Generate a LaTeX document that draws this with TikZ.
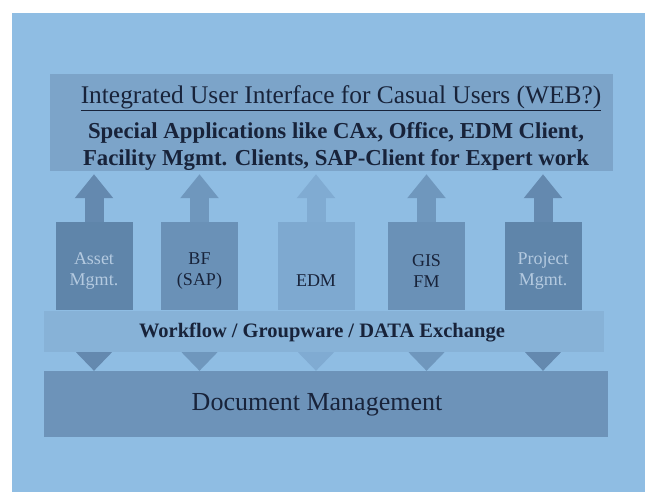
\documentclass[tikz,border=0pt]{standalone}
\usepackage{fontspec}
\setmainfont{Liberation Serif}
\usetikzlibrary{arrows.meta}

\definecolor{bgblue}{HTML}{8FBDE3}
\definecolor{uiblue}{HTML}{7CA4C9}
\definecolor{wfblue}{HTML}{87B2D7}
\definecolor{docblue}{HTML}{6D93B9}
\definecolor{darkbox}{HTML}{5F85AA}
\definecolor{midbox}{HTML}{6A91B7}
\definecolor{lightbox}{HTML}{7EA9D0}
\definecolor{darkarr}{HTML}{6489AF}
\definecolor{midarr}{HTML}{6F97BD}
\definecolor{lightarr}{HTML}{80ABD2}
\definecolor{navy}{HTML}{18233A}
\definecolor{paletext}{HTML}{B4CAE0}

\begin{document}
\begin{tikzpicture}[
  x=1pt, y=-1pt,
  box/.style={rectangle, inner sep=0pt, draw=none},
  appbox/.style={box, minimum width=77pt, minimum height=88pt},
  applabel/.style={align=center, font=\fontsize{18}{21}\selectfont, text=navy},
  upblock/.style={line width=19pt, -{Triangle[width=37pt,length=24pt]}, shorten >=3pt},
  heading/.style={font=\fontsize{25.4}{30}\selectfont, text=navy},
  boldtext/.style={align=center, font=\bfseries\fontsize{22.8}{27}\selectfont, text=navy}
]
\useasboundingbox (0,0) rectangle (650,492);
\fill[white] (0,0) rectangle (650,492);
\fill[bgblue] (12,13) rectangle (645,492);

% interface on top
\node[box, fill=uiblue, minimum width=563pt, minimum height=97pt] (ui) at (331.5,122.5) {};
\node[heading] (uititle) at (341,98) {\underline{Integrated User Interface for Casual Users (WEB?)}};
\node[boldtext] (uiapps) at (336,146) {Special Applications like CAx, Office, EDM Client,\\Facility Mgmt. Clients, SAP-Client for Expert work};

% application boxes
\node[appbox, fill=darkbox] (asset) at (94,266) {};
\node[appbox, fill=midbox] (bf) at (199.5,266) {};
\node[appbox, fill=lightbox] (edm) at (316,266) {};
\node[appbox, fill=midbox] (gis) at (426.5,266) {};
\node[appbox, fill=darkbox] (project) at (543,266) {};

\node[applabel, text=paletext] (assetlbl) at (94,271) {Asset\\Mgmt.};
\node[applabel] (bflbl) at (199.5,271) {BF\\(SAP)};
\node[applabel] (edmlbl) at (316,281) {EDM};
\node[applabel] (gislbl) at (426.5,271) {GIS\\FM};
\node[applabel, text=paletext] (projectlbl) at (543,271) {Project\\Mgmt.};

\draw[upblock, darkarr] (asset.north) -- (asset.north |- ui.south);
\draw[upblock, midarr] (bf.north) -- (bf.north |- ui.south);
\draw[upblock, lightarr] (edm.north) -- (edm.north |- ui.south);
\draw[upblock, midarr] (gis.north) -- (gis.north |- ui.south);
\draw[upblock, darkarr] (project.north) -- (project.north |- ui.south);

% workflow bar and document management
\node[box, fill=wfblue, minimum width=560pt, minimum height=41pt] (wf) at (324,331.5) {};
\node[boldtext, font=\bfseries\fontsize{20.5}{24}\selectfont] (wflbl) at (322,333) {Workflow / Groupware / DATA Exchange};

\node[box, fill=docblue, minimum width=564pt, minimum height=66pt] (doc) at (326,404) {};
\node[heading, font=\fontsize{26}{30}\selectfont] (doclbl) at (317,405) {Document Management};

\fill[darkarr] ([xshift=-18pt]asset.south |- wf.south) -- ([xshift=18pt]asset.south |- wf.south) -- (asset.south |- doc.north) -- cycle;
\fill[midarr] ([xshift=-18pt]bf.south |- wf.south) -- ([xshift=18pt]bf.south |- wf.south) -- (bf.south |- doc.north) -- cycle;
\fill[lightarr] ([xshift=-18pt]edm.south |- wf.south) -- ([xshift=18pt]edm.south |- wf.south) -- (edm.south |- doc.north) -- cycle;
\fill[midarr] ([xshift=-18pt]gis.south |- wf.south) -- ([xshift=18pt]gis.south |- wf.south) -- (gis.south |- doc.north) -- cycle;
\fill[darkarr] ([xshift=-18pt]project.south |- wf.south) -- ([xshift=18pt]project.south |- wf.south) -- (project.south |- doc.north) -- cycle;

\end{tikzpicture}
\end{document}
